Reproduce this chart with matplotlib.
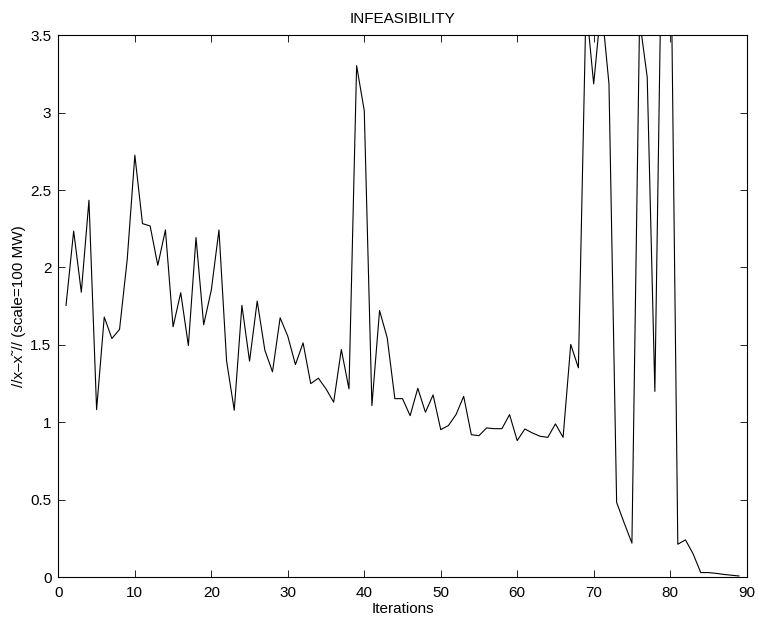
import numpy as np
import matplotlib
matplotlib.use('Agg')
import matplotlib.pyplot as plt

plt.rcParams['font.family'] = ['Liberation Sans', 'DejaVu Sans']

# infeasibility norm per iteration (values above 3.5 run off the top of the plot)
iterations = np.arange(1, 90)
infeas = [
    1.755, 2.235, 1.84, 2.434, 1.082, 1.68, 1.541, 1.60, 2.05, 2.725,
    2.283, 2.268, 2.014, 2.242, 1.617, 1.837, 1.496, 2.193, 1.63, 1.854,
    2.242, 1.395, 1.078, 1.755, 1.395, 1.783, 1.466, 1.326, 1.675, 1.556,
    1.373, 1.513, 1.25, 1.285, 1.216, 1.13, 1.47, 1.216, 3.303, 3.012,
    1.108, 1.722, 1.546, 1.153, 1.153, 1.043, 1.22, 1.065, 1.177, 0.953,
    0.979, 1.05, 1.168, 0.92, 0.914, 0.964, 0.959, 0.959, 1.05, 0.882,
    0.957, 0.931, 0.91, 0.903, 0.99, 0.903, 1.503, 1.352, 3.7, 3.185,
    3.7, 3.185, 0.483, 0.349, 0.22, 3.6, 3.228, 1.2, 4.5, 4.5,
    0.213, 0.241, 0.151, 0.03, 0.03, 0.025, 0.018, 0.013, 0.008,
]

fig = plt.figure(figsize=(7.58, 6.22), dpi=100)
ax = fig.add_axes([0.077, 0.072, 0.908, 0.8715])
ax.plot(iterations, infeas, color='black', linewidth=0.8)

ax.set_xlim(0, 90)
ax.set_ylim(0, 3.5)
ax.set_xticks(np.arange(0, 91, 10))
ax.set_yticks(np.arange(0, 3.51, 0.5))
ax.set_yticklabels(['0', '0.5', '1', '1.5', '2', '2.5', '3', '3.5'])
ax.tick_params(direction='in', top=True, right=True, length=5, width=0.6,
               labelsize=11)
ax.tick_params(axis='x', pad=6)
ax.tick_params(axis='y', pad=5)
for s in ax.spines.values():
    s.set_linewidth(0.8)

ax.set_title('INFEASIBILITY', fontsize=11, pad=9)
ax.set_xlabel('Iterations', fontsize=11, labelpad=2)
ax.set_ylabel('//x\u2013x\u02dc// (scale=100 MW)', fontsize=11, labelpad=3)

fig.savefig('out.png', dpi=100)
